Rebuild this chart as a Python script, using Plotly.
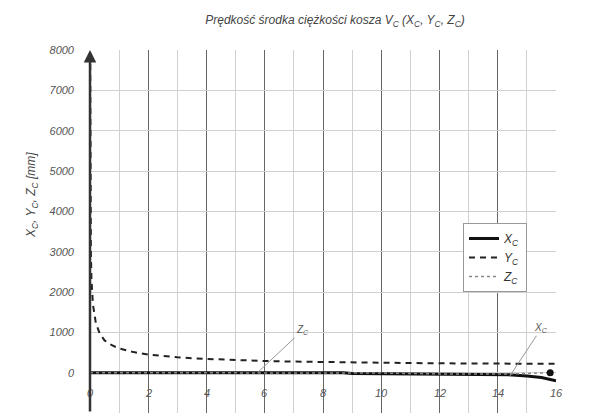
import plotly.graph_objects as go

# ---- data ----
t_y = [0.005, 0.01, 0.02, 0.03, 0.05, 0.1, 0.2, 0.34, 0.5, 0.75, 1, 1.5, 2, 3, 4, 5, 6, 7, 8, 9, 10, 11, 12, 13, 14, 15, 16]
yc = [8200, 5600, 3800, 3000, 2300, 1700, 1230, 960, 800, 680, 600, 510, 450, 380, 340, 310, 290, 275, 262, 252, 245, 238, 232, 228, 224, 221, 218]

t_x = [0, 2, 4, 6, 8, 8.7, 9, 10, 12, 13, 14, 14.5, 15, 15.5, 16]
xc = [0, 0, 0, 0, 0, 0, -20, -25, -35, -40, -45, -55, -80, -120, -200]

t_z = [0, 2, 4, 6, 8, 10, 12, 13, 14, 15, 15.8]
zc = [0, 0, 0, 0, 0, -10, -30, -35, -35, -20, 0]

x_ticks = [0, 2, 4, 6, 8, 10, 12, 14, 16]
y_ticks = [-1000, 0, 1000, 2000, 3000, 4000, 5000, 6000, 7000, 8000]
x_label_level = -500  # level (mm) at which the t tick labels are printed inside the plot

FONT = "Liberation Sans Narrow, Arial Narrow, Liberation Sans, sans-serif"
# the page body adds an 8px offset, so the figure is 8px smaller and margins shifted
OFF = 8
W, H = 593 - OFF, 416 - OFF
L, R, T, B = 90 - OFF, 37, 50 - OFF, 3
PW, PH = W - L - R, H - T - B

fig = go.Figure()
fig.add_trace(go.Scatter(x=t_x, y=xc, mode="lines", name="X<sub>C</sub>",
                         line=dict(color="#111111", width=3)))
fig.add_trace(go.Scatter(x=t_y, y=yc, mode="lines", name="Y<sub>C</sub>",
                         line=dict(color="#222222", width=2, dash="6px,5px")))
fig.add_trace(go.Scatter(x=t_z, y=zc, mode="lines", name="Z<sub>C</sub>",
                         line=dict(color="#888888", width=1.5, dash="dot")))
fig.add_trace(go.Scatter(x=[t_z[-1]], y=[zc[-1]], mode="markers", showlegend=False,
                         marker=dict(color="#111111", size=7)))

fig.update_layout(
    width=W, height=H,
    margin=dict(l=L, r=R, t=T, b=B),
    paper_bgcolor="white", plot_bgcolor="white",
    font=dict(family=FONT, color="#555555", size=10, style="italic"),
    title=dict(text="Prędkość środka ciężkości kosza V<sub>C</sub> (X<sub>C</sub>, Y<sub>C</sub>, Z<sub>C</sub>)",
               x=(335 - OFF) / W, xanchor="center", y=1 - (20 - OFF) / H, yanchor="middle",
               font=dict(family=FONT, size=12, color="#444444", style="italic")),
    showlegend=True,
    legend=dict(x=(463 - 90) / PW, y=(413 - 223) / PH, xanchor="left", yanchor="top",
                bgcolor="white", bordercolor="#999999", borderwidth=1,
                font=dict(family=FONT, size=12, color="#333333", style="italic"),
                itemwidth=30, tracegroupgap=4),
)

fig.update_xaxes(range=[0, 16], tickvals=x_ticks, showticklabels=False,
                 showgrid=True, gridcolor="#666666", gridwidth=1,
                 minor=dict(dtick=1, showgrid=True, gridcolor="#d0d0d0", gridwidth=1),
                 zeroline=False, showline=False, automargin=False)
fig.update_yaxes(range=[-1000, 8000], tickvals=y_ticks, ticktext=[str(v) for v in y_ticks],
                 showgrid=True, gridcolor="#d0d0d0", gridwidth=1,
                 zeroline=False, showline=False, ticklabelstandoff=15, automargin=False,
                 tickfont=dict(family=FONT, size=11, color="#555555", style="italic"))

# t tick labels, printed inside the plot
for v in x_ticks:
    fig.add_annotation(x=v, y=x_label_level, xref="x", yref="y", text=str(v), showarrow=False,
                       font=dict(family=FONT, size=11, color="#555555", style="italic"))

# y axis line with arrow at top (at t = 0)
fig.add_annotation(x=0, y=8000, ax=0, ay=-1000, axref="x", ayref="y", xref="x", yref="y",
                   text="", showarrow=True, arrowhead=2, arrowsize=1, arrowwidth=2.5,
                   arrowcolor="#333333")

# labels with leader lines
fig.add_annotation(x=5.75, y=0, ax=7.3, ay=1050, axref="x", ayref="y",
                   text="Z<sub>C</sub>", showarrow=True, arrowhead=0, arrowwidth=1,
                   arrowcolor="#999999", font=dict(family=FONT, size=10, color="#555555", style="italic"))
fig.add_annotation(x=14.4, y=-100, ax=15.5, ay=1100, axref="x", ayref="y",
                   text="X<sub>C</sub>", showarrow=True, arrowhead=0, arrowwidth=1,
                   arrowcolor="#999999", font=dict(family=FONT, size=10, color="#555555", style="italic"))
fig.add_annotation(x=16.3, y=700, xref="x", yref="y", xanchor="left",
                   text="t [s]", showarrow=False,
                   font=dict(family=FONT, size=11, color="#555555", style="italic"))
fig.add_annotation(x=(22 - 90) / PW, y=(413 - 195) / PH, xref="paper", yref="paper",
                   text="X<sub>C</sub>, Y<sub>C</sub>, Z<sub>C</sub> [mm]", textangle=-90,
                   showarrow=False,
                   font=dict(family=FONT, size=12, color="#444444", style="italic"))

fig.write_html("out.html")
